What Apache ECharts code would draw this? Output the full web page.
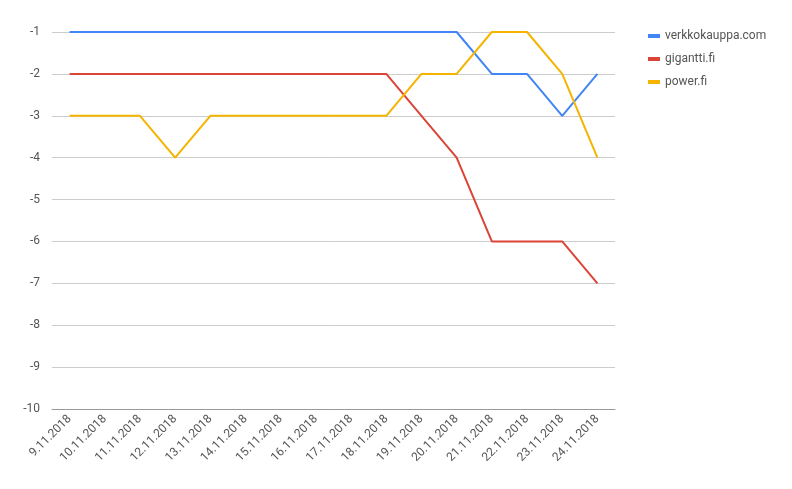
<!DOCTYPE html>
<html><head><meta charset="utf-8">
<script src="https://cdn.jsdelivr.net/npm/echarts@6/dist/echarts.min.js"></script>
<style>html,body{margin:0;padding:0;background:#fff}#c{width:792px;height:489px}</style>
</head><body><div id="c"></div>
<script>
const categories=['9.11.2018','10.11.2018','11.11.2018','12.11.2018','13.11.2018','14.11.2018','15.11.2018','16.11.2018','17.11.2018','18.11.2018','19.11.2018','20.11.2018','21.11.2018','22.11.2018','23.11.2018','24.11.2018'];
const verkkokauppa=[-1,-1,-1,-1,-1,-1,-1,-1,-1,-1,-1,-1,-2,-2,-3,-2];
const gigantti=[-2,-2,-2,-2,-2,-2,-2,-2,-2,-2,-3,-4,-6,-6,-6,-7];
const power=[-3,-3,-3,-4,-3,-3,-3,-3,-3,-3,-2,-2,-1,-1,-2,-4];
const chart=echarts.init(document.getElementById('c'));
const mk=(name,data,color)=>({name,type:'line',data,showSymbol:false,symbol:'none',lineStyle:{width:2,color},itemStyle:{color}});
chart.setOption({
 animation:false,
 textStyle:{fontFamily:'Roboto'},
 grid:{left:52,right:177,top:32,bottom:80},
 legend:{orient:'vertical',left:643,top:25,itemWidth:12,itemHeight:4,itemGap:11,icon:'rect',
   textStyle:{color:'#555',fontSize:12,fontFamily:'Roboto'}},
 xAxis:{type:'category',data:categories,boundaryGap:true,
   axisLine:{lineStyle:{color:'#999'}},axisTick:{show:false},
   axisLabel:{rotate:45,interval:0,color:'#555',fontSize:12,margin:8}},
 yAxis:{type:'value',min:-10,max:-1,interval:1,
   axisLine:{show:false},axisTick:{show:false},
   axisLabel:{color:'#555',fontSize:12,margin:12},
   splitLine:{lineStyle:{color:'#ccc'}}},
 series:[mk('verkkokauppa.com',verkkokauppa,'#4285f4'),mk('gigantti.fi',gigantti,'#db4437'),mk('power.fi',power,'#f4b400')]
});
</script></body></html>
